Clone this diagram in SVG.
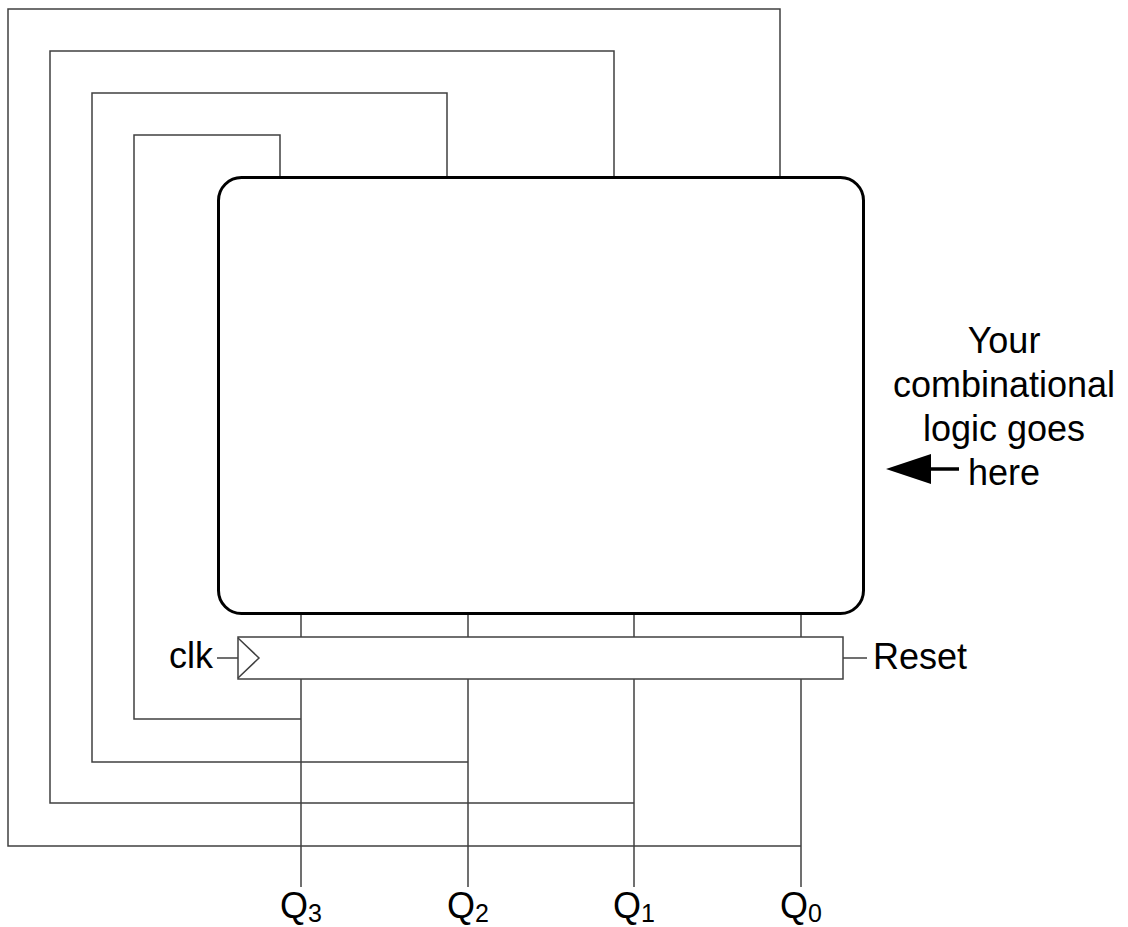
<svg xmlns="http://www.w3.org/2000/svg" width="1128" height="927" viewBox="0 0 1128 927">
<style>
.w{fill:none;stroke:#404040;stroke-width:1.5}
.t{font-family:"Liberation Sans",Arial,sans-serif;font-size:36px;fill:#000}
.s{font-size:25px}
</style>
<rect width="1128" height="927" fill="#fff"/>
<g id="connectors">
<polyline class="w" points="780,177 780,9 8,9 8,846 801,846"/>
<polyline class="w" points="614,177 614,51 50,51 50,803 634,803"/>
<polyline class="w" points="447,177 447,93 92,93 92,762 468,762"/>
<polyline class="w" points="280,177 280,135 134,135 134,719 301,719"/>
<line class="w" x1="301" y1="614" x2="301" y2="637"/>
<line class="w" x1="468" y1="614" x2="468" y2="637"/>
<line class="w" x1="634" y1="614" x2="634" y2="637"/>
<line class="w" x1="801" y1="614" x2="801" y2="637"/>
<line class="w" x1="301" y1="679" x2="301" y2="887"/>
<line class="w" x1="468" y1="679" x2="468" y2="887"/>
<line class="w" x1="634" y1="679" x2="634" y2="887"/>
<line class="w" x1="801" y1="679" x2="801" y2="887"/>
<line class="w" x1="217" y1="658" x2="238" y2="658"/>
<line class="w" x1="843" y1="658" x2="867" y2="658"/>
<line x1="931" y1="469" x2="959" y2="469" stroke="#000" stroke-width="3.5"/>
<polygon points="886,469 931,454 931,484" fill="#000"/>
</g>
<g id="logic">
<rect x="218.5" y="177.5" width="645" height="436" rx="23" fill="none" stroke="#000" stroke-width="3"/>
</g>
<g id="register">
<rect class="w" x="238" y="637" width="605" height="42" fill="#fff"/>
<polyline class="w" points="238,638 259,658 238,678"/>
</g>
<g id="labels">
<text class="t" x="213" y="668" text-anchor="end">clk</text>
<text class="t" x="873" y="669">Reset</text>
<text class="t" x="1004" y="353" text-anchor="middle">Your</text>
<text class="t" x="1004" y="397" text-anchor="middle">combinational</text>
<text class="t" x="1004" y="441" text-anchor="middle">logic goes</text>
<text class="t" x="1004" y="485" text-anchor="middle">here</text>
<text class="t" x="280" y="918">Q<tspan class="s" dy="4">3</tspan></text>
<text class="t" x="447" y="918">Q<tspan class="s" dy="4">2</tspan></text>
<text class="t" x="613" y="918">Q<tspan class="s" dy="4">1</tspan></text>
<text class="t" x="780" y="918">Q<tspan class="s" dy="4">0</tspan></text>
</g>
</svg>
